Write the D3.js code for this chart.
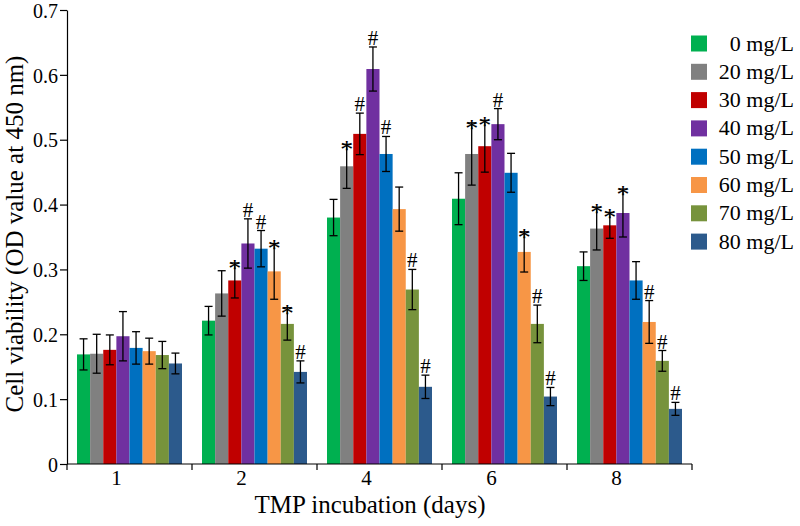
<!DOCTYPE html>
<html><head><meta charset="utf-8">
<script src="https://cdn.jsdelivr.net/npm/d3@7"></script>
<style>
html,body{margin:0;padding:0;background:#fff;}
svg{display:block;}
svg text{font-family:"Liberation Serif","Times New Roman","DejaVu Serif",serif;}
</style></head>
<body><svg id="chart" width="800" height="526"></svg>
<script>
const days = ["1","2","4","6","8"];
const series = ["0 mg/L","20 mg/L","30 mg/L","40 mg/L","50 mg/L","60 mg/L","70 mg/L","80 mg/L"];
const colors = ["#00b050","#808080","#c00000","#7030a0","#0070c0","#f79646","#77933c","#2c5a8c"];
// values[series][day]
const values = [
  [0.169,0.221,0.380,0.409,0.305],
  [0.170,0.263,0.459,0.478,0.363],
  [0.176,0.283,0.509,0.490,0.368],
  [0.197,0.340,0.609,0.524,0.387],
  [0.179,0.332,0.478,0.449,0.283],
  [0.174,0.297,0.393,0.327,0.219],
  [0.168,0.216,0.269,0.216,0.159],
  [0.155,0.142,0.119,0.104,0.085]
];
const errors = [
  [0.024,0.022,0.028,0.040,0.022],
  [0.030,0.035,0.034,0.048,0.033],
  [0.023,0.027,0.032,0.040,0.020],
  [0.038,0.038,0.034,0.024,0.037],
  [0.025,0.028,0.027,0.030,0.029],
  [0.020,0.043,0.034,0.031,0.033],
  [0.021,0.025,0.031,0.029,0.016],
  [0.016,0.017,0.018,0.014,0.010]
];
const marks = [
  ["","","","",""],
  ["","","*","*","*"],
  ["","*","#","*","*"],
  ["","#","#","#","*"],
  ["","#","#","",""],
  ["","*","","*","#"],
  ["","*","#","#","#"],
  ["","#","#","#","#"]
];
const yTicks = [0,0.1,0.2,0.3,0.4,0.5,0.6,0.7];
const yTickLabels = ["0","0.1","0.2","0.3","0.4","0.5","0.6","0.7"];

const FONT = '"Liberation Serif","Times New Roman","DejaVu Serif",serif';
const svg = d3.select("#chart");
const x0 = d3.scaleBand().domain(days).range([67,692]).paddingInner(0.16).paddingOuter(0.08);
const x1 = d3.scaleBand().domain(series).range([0,x0.bandwidth()]);
const y = d3.scaleLinear().domain([0,0.7]).range([464,10]);

const data = [];
series.forEach((s,i)=>days.forEach((d,j)=>data.push({s,i,d,j,v:values[i][j],e:errors[i][j],m:marks[i][j]})));

// bars
svg.append("g").selectAll("rect").data(data).join("rect")
  .attr("x",d=>x0(d.d)+x1(d.s))
  .attr("y",d=>y(d.v))
  .attr("width",x1.bandwidth())
  .attr("height",d=>y(0)-y(d.v))
  .attr("fill",d=>colors[d.i]);

// error bars
const eg = svg.append("g").attr("stroke","#000").attr("stroke-width",1.3);
data.forEach(d=>{
  const cx = x0(d.d)+x1(d.s)+x1.bandwidth()/2;
  eg.append("line").attr("x1",cx).attr("x2",cx).attr("y1",y(d.v+d.e)).attr("y2",y(d.v-d.e));
  eg.append("line").attr("x1",cx-4).attr("x2",cx+4).attr("y1",y(d.v+d.e)).attr("y2",y(d.v+d.e));
  eg.append("line").attr("x1",cx-4).attr("x2",cx+4).attr("y1",y(d.v-d.e)).attr("y2",y(d.v-d.e));
});

// significance marks
svg.append("g").selectAll("text").data(data.filter(d=>d.m)).join("text")
  .attr("x",d=>x0(d.d)+x1(d.s)+x1.bandwidth()/2)
  .attr("y",d=>y(d.v+d.e)+(d.m==="*"?14:-2))
  .attr("text-anchor","middle")
  .attr("font-family",FONT)
  .attr("font-size",d=>d.m==="*"?26:21)
  .attr("fill","#000")
  .text(d=>d.m);

// y axis
const yAxis = svg.append("g").attr("transform","translate(67,0)")
  .call(d3.axisLeft(y).tickValues(yTicks).tickFormat((d,i)=>yTickLabels[i]).tickSize(7).tickSizeOuter(0).tickPadding(2));
yAxis.attr("font-family",FONT).attr("font-size",20);
yAxis.selectAll("text").attr("fill","#000").attr("dy","0.36em");
yAxis.selectAll("line,path").attr("stroke","#000").attr("stroke-width",1.2);

// x axis
const xAxis = svg.append("g").attr("transform","translate(0,464)")
  .call(d3.axisBottom(x0).tickSize(0).tickSizeOuter(0).tickPadding(6));
xAxis.attr("font-family",FONT).attr("font-size",21);
xAxis.select("path").attr("d","M67,0H692");
xAxis.selectAll("text").attr("fill","#000").attr("dx",-13);
xAxis.selectAll("path").attr("stroke","#000").attr("stroke-width",1.2);
const bounds = days.map(d=>x0(d)-(x0.step()-x0.bandwidth())/2).concat([692]);
xAxis.selectAll("line.bt").data(bounds).join("line").attr("class","bt")
  .attr("x1",d=>d).attr("x2",d=>d).attr("y1",0).attr("y2",6).attr("stroke","#000").attr("stroke-width",1.2);

// axis titles
svg.append("text").attr("x",370).attr("y",513).attr("text-anchor","middle")
  .attr("font-family",FONT).attr("font-size",25).attr("fill","#000").text("TMP incubation (days)");
svg.append("text").attr("transform","translate(23,234) rotate(-90)").attr("text-anchor","middle")
  .attr("font-family",FONT).attr("font-size",25).attr("fill","#000").text("Cell viability (OD value at 450 nm)");

// legend
const lg = svg.append("g");
series.forEach((s,i)=>{
  const cy = 43.5 + i*28.3;
  lg.append("rect").attr("x",691).attr("y",cy-8).attr("width",16).attr("height",16).attr("fill",colors[i]);
  lg.append("text").attr("x",794).attr("y",cy+7).attr("text-anchor","end")
    .attr("font-family",FONT).attr("font-size",22).attr("fill","#000").text(s);
});
</script></body></html>
